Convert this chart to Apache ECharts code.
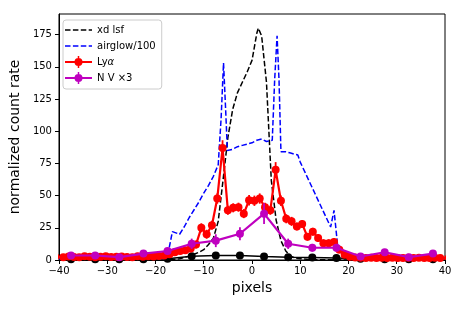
<!DOCTYPE html>
<html>
<head>
<meta charset="utf-8">
<script src="https://cdn.jsdelivr.net/npm/echarts@6/dist/echarts.min.js"></script>
<style>html,body{margin:0;padding:0;background:#fff}#c{width:463px;height:309px}</style>
</head>
<body>
<div id="c"></div>
<script>
// ---- data ----
const xTicks = [-40, -30, -20, -10, 0, 10, 20, 30, 40];
const yTicks = [0, 25, 50, 75, 100, 125, 150, 175];

const xdX = [-17,-16,-15,-14,-13,-12,-11,-10,-9,-8,-7,-6,-5,-4,-3,-2,-1,0,1,1.3,2,3,3.5,4,5,6,7,8,9,10,12,20];
const xdY = [0,0.5,1,2,3,4.5,6,8,12,17,30,62,95,117,130,138,146,155,176,180,174,138,100,62,31,15,7,3,1.5,1,0.3,0];

const airX = [-40,-18,-17.5,-16.5,-15,-14,-13,-12,-11,-10,-9,-8,-7,-6.4,-5.9,-5.5,-5.1,-4,-3,-2,-1,0,1,2,3,4.2,4.7,5.2,5.6,6,7,8,9,9.5,10,11,12,13,14,15,16,16.3,17,17.7,19,19.8,21,22.5,24,40];
const airY = [1,1,3,22,20,26,33,39,45,52,58,65,74,110,153,120,85,86,88,89,90,91,93,94,92,93,140,174,140,84,84,83,82,81.5,76,68,60,52,44,36,28,25.6,38.6,13,7,5.5,3,2,1.5,1];

const lyaX = [-40.2,-39.1,-38.0,-36.9,-35.8,-34.7,-33.6,-32.5,-31.4,-30.3,-29.2,-28.1,-27.0,-25.9,-24.8,-23.7,-22.6,-21.5,-20.4,-19.3,
  -18.2,-17.1,-16.0,-14.9,-13.8,-12.7,-11.6,
  -10.5,-9.4,-8.3,-7.2,-6.1,-5.0,-3.9,-2.8,-1.7,-0.6,0.5,1.6,2.7,3.8,4.9,6.0,7.1,8.2,9.3,10.4,11.5,12.6,13.7,14.8,15.9,17.0,
  18.1,19.2,20.3,21.4,22.5,23.6,24.7,25.8,26.9,28.0,29.1,30.2,31.3,32.4,33.5,34.6,35.7,36.8,37.9,39.0,40.1];
const lyaY = [2.5,2.2,2.8,2.4,2.1,2.9,2.5,2.2,2.6,2.9,2.3,2.5,2.8,2.4,2.2,2.9,2.6,3.0,2.7,3.2,
  3.5,4.5,6,7,7.5,9,12,
  25,20,27,47.7,87,38.6,40.5,41,36,46.4,46,47.7,41,38.6,70,46,32,30,26,28,18,22,17,13,13,14,
  8,4,2.5,2,1.8,1.6,1.8,1.5,1.7,1.6,1.8,1.5,1.6,1.7,1.5,1.8,1.6,1.5,1.7,1.6,1.5];
const lyaErr = [2,2,2,2,2,2,2,2,2,2,2,2,2,2,2,2,2,2,2,2,
  2.5,2.5,2.5,2.5,2.5,3,3,
  3.5,3.5,3.5,4,6,3.5,3.5,3.5,3.5,4,4,4,3.5,3.5,6,4,3.5,3.5,3,3,3,3,3,3,3,3,
  2.5,2,2,2,2,2,2,2,2,2,2,2,2,2,2,2,2,2,2,2,2];

const nvX = [-37.5,-32.5,-27.5,-22.5,-17.5,-12.5,-7.5,-2.5,2.5,7.5,12.5,17.5,22.5,27.5,32.5,37.5];
const nvY = [3.5,3.5,2.2,5,7,12.6,15,20.4,36,12.6,9.5,9.5,2.7,6,2.2,5];
const nvErr = [1.5,1.5,1.5,1.5,2,4,5,5,8,4,3,3,1.5,1.5,1.5,1.5];

const bkX = [-37.5,-32.5,-27.5,-22.5,-17.5,-12.5,-7.5,-2.5,2.5,7.5,12.5,17.5,22.5,27.5,32.5,37.5];
const bkY = [0.5,0.5,0.5,0.5,1,3,3.5,3.5,2.7,2.2,2,1.5,1,0.5,0.5,0.5];

// ---- helpers ----
const zip = (a, b) => a.map((v, i) => [v, b[i]]);
const zip3 = (a, b, c) => a.map((v, i) => [v, b[i], c[i]]);
const FONT = 'DejaVu Sans';
const minus = v => String(v).replace('-', '\u2212');

// legend icons (27 x 14 box; tiny corner squares fix the bounding box)
const CORNERS = 'M0,0h0.01v0.01h-0.01z M26.99,13.99h0.01v0.01h-0.01z ';
const DASH_ICON = 'path://' + CORNERS +
  'M0,6.25h5.5v1.5h-5.5z M7.9,6.25h5.5v1.5h-5.5z M15.8,6.25h5.5v1.5h-5.5z M23.7,6.25h3.3v1.5h-3.3z';
const MARK_ICON = 'path://' + CORNERS +
  'M0,6h27v2h-27z M12.75,1h1.5v12h-1.5z M9.5,7a4,4 0 1,1 8,0a4,4 0 1,1 -8,0z';

function errSeries(data, color, z) {
  return {
    type: 'custom', data: data, z: z, clip: true, silent: true,
    renderItem: function (params, api) {
      const x = api.value(0), y = api.value(1), e = api.value(2);
      const p1 = api.coord([x, y - e]), p2 = api.coord([x, y + e]);
      return { type: 'line', shape: { x1: p1[0], y1: p1[1], x2: p2[0], y2: p2[1] },
               style: { stroke: color, lineWidth: 1.8 } };
    }
  };
}

const chart = echarts.init(document.getElementById('c'), null, { renderer: 'canvas' });
chart.setOption({
  animation: false,
  backgroundColor: '#fff',
  grid: { left: 58, right: 18, top: 14, bottom: 49, show: true, borderColor: '#000', borderWidth: 1, backgroundColor: 'transparent' },
  legend: {
    data: [
      { name: 'xd lsf', icon: DASH_ICON },
      { name: 'airglow/100', icon: DASH_ICON },
      { name: 'Lyα', icon: MARK_ICON },
      { name: 'N V ×3', icon: MARK_ICON }
    ],
    orient: 'vertical', left: 63, top: 20,
    itemWidth: 27, itemHeight: 14, itemGap: 2,
    padding: [3, 6, 4, 2],
    borderColor: '#cccccc', borderWidth: 1, borderRadius: 3,
    backgroundColor: 'rgba(255,255,255,0.8)',
    textStyle: { fontFamily: FONT, fontSize: 10, color: '#000', lineHeight: 14,
      rich: { n: { fontFamily: FONT, fontSize: 10, color: '#000' },
              i: { fontFamily: FONT, fontSize: 10, fontStyle: 'italic', color: '#000' } } },
    formatter: function (name) { return name === 'Lyα' ? '{n|Ly}{i|α}' : name; }
  },
  xAxis: {
    type: 'value', min: -40, max: 40, interval: 10,
    name: 'pixels', nameLocation: 'middle', nameGap: 20,
    nameTextStyle: { fontFamily: FONT, fontSize: 14, color: '#000' },
    axisLine: { show: true, onZero: false, lineStyle: { color: '#000', width: 1 } },
    axisTick: { show: true, inside: false, length: 4, lineStyle: { color: '#000' }, customValues: xTicks },
    axisLabel: { fontFamily: FONT, fontSize: 10, color: '#000', margin: 6, customValues: xTicks, formatter: minus },
    splitLine: { show: false }
  },
  yAxis: {
    type: 'value', min: 0, max: 191,
    name: 'normalized count rate', nameLocation: 'middle', nameGap: 23,
    nameTextStyle: { fontFamily: FONT, fontSize: 14, color: '#000' },
    axisLine: { show: true, onZero: false, lineStyle: { color: '#000', width: 1 } },
    axisTick: { show: true, inside: false, length: 4, lineStyle: { color: '#000' }, customValues: yTicks },
    axisLabel: { fontFamily: FONT, fontSize: 10, color: '#000', margin: 7, customValues: yTicks },
    splitLine: { show: false }
  },
  series: [
    { name: 'xd lsf', type: 'line', data: zip(xdX, xdY), symbol: 'none', z: 2,
      lineStyle: { color: '#000', width: 1.5, type: [5.5, 2.4] }, itemStyle: { color: '#000' } },
    { name: 'airglow/100', type: 'line', data: zip(airX, airY), symbol: 'none', z: 2,
      lineStyle: { color: '#0000ff', width: 1.5, type: [5.5, 2.4] }, itemStyle: { color: '#0000ff' } },
    { name: 'bk', type: 'line', data: zip(bkX, bkY), symbol: 'circle', symbolSize: 8, z: 3,
      lineStyle: { color: '#000', width: 1.5 }, itemStyle: { color: '#000' } },
    errSeries(zip3(lyaX, lyaY, lyaErr), '#ff0000', 4),
    { name: 'Lyα', type: 'line', data: zip(lyaX, lyaY), symbol: 'circle', symbolSize: 8, z: 4,
      lineStyle: { color: '#ff0000', width: 2.2 }, itemStyle: { color: '#ff0000' } },
    errSeries(zip3(nvX, nvY, nvErr), '#bf00bf', 5),
    { name: 'N V ×3', type: 'line', data: zip(nvX, nvY), symbol: 'circle', symbolSize: 8, z: 5,
      lineStyle: { color: '#bf00bf', width: 2.2 }, itemStyle: { color: '#bf00bf' } }
  ]
});
</script>
</body>
</html>
